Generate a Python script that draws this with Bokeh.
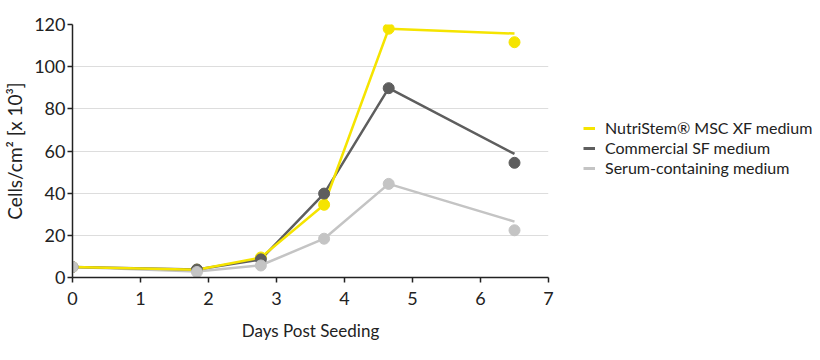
from bokeh.plotting import figure
from bokeh.layouts import row
from bokeh.models import Range1d, Legend, LegendItem, FixedTicker
from bokeh.embed import file_html
from bokeh.resources import INLINE

days = [0, 1.83, 2.77, 3.7, 4.65, 6.5]
series = ["NutriStem\u00ae MSC XF medium", "Commercial SF medium", "Serum-containing medium"]
colors = ["#F5E400", "#5E5E5E", "#C4C4C4"]
# connecting line values
line_vals = [
    [5, 3.7, 9.5, 34.5, 118, 115.7],
    [5, 3.8, 8.6, 39.8, 89.8, 58.6],
    [5, 2.8, 5.8, 18.4, 44.4, 26.5],
]
# measured points
point_vals = [
    [5, 3.7, 9.5, 34.5, 118, 111.6],
    [5, 3.8, 8.6, 39.8, 89.8, 54.4],
    [5, 2.6, 5.7, 18.4, 44.4, 22.4],
]
x_ticks = [0, 1, 2, 3, 4, 5, 6, 7]
y_ticks = [0, 20, 40, 60, 80, 100, 120]

FONT = "Lato"
H = 350
NAN = float("nan")

p = figure(width=556, height=H, output_backend="svg", toolbar_location=None,
           x_range=Range1d(0, 7), y_range=Range1d(0, 120),
           min_border_left=71, min_border_top=24, min_border_bottom=H - 277, min_border_right=8)
p.outline_line_color = None
p.background_fill_color = "white"

for i in [2, 1, 0]:
    p.line(days, line_vals[i], line_color=colors[i], line_width=2.5)
for i in [0, 1, 2]:
    p.scatter(days, point_vals[i], size=11, fill_color=colors[i], line_color=colors[i])

p.xgrid.grid_line_color = None
p.ygrid.grid_line_color = "#DDDDDD"
p.ygrid.grid_line_width = 1.2

p.xaxis.ticker = FixedTicker(ticks=x_ticks)
p.yaxis.ticker = FixedTicker(ticks=y_ticks)
for ax in (p.xaxis, p.yaxis):
    ax.axis_line_color = "#222222"
    ax.axis_line_width = 1.5
    ax.major_tick_line_color = "#222222"
    ax.major_tick_line_width = 1.5
    ax.major_tick_out = 5
    ax.major_tick_in = 0
    ax.minor_tick_line_color = None
    ax.major_label_text_font = FONT
    ax.major_label_text_font_size = "18px"
    ax.major_label_text_color = "#222222"
    ax.axis_label_text_font = FONT
    ax.axis_label_text_font_size = "17px"
    ax.axis_label_text_font_style = "normal"
    ax.axis_label_text_color = "#222222"

p.yaxis.axis_label_text_font_size = "19px"
p.xaxis.axis_label = "Days Post Seeding"
p.yaxis.axis_label = "Cells/cm\u00b2 [x 10\u00b3]"
p.xaxis.major_label_standoff = 9
p.xaxis.axis_label_standoff = 12
p.yaxis.major_label_standoff = 2
p.yaxis.axis_label_standoff = 5

# legend panel
pl = figure(width=256, height=H, output_backend="svg", toolbar_location=None,
            x_range=Range1d(0, 1), y_range=Range1d(0, 1),
            x_axis_location=None, y_axis_location=None,
            min_border_left=0, min_border_right=0, min_border_top=0, min_border_bottom=0)
pl.outline_line_color = None
pl.xgrid.grid_line_color = None
pl.ygrid.grid_line_color = None
items = []
for i in range(3):
    r = pl.line(x=[NAN], y=[NAN], line_color=colors[i], line_width=3)
    items.append(LegendItem(label=series[i], renderers=[r]))
legend = Legend(items=items, location=(27, 100), orientation="vertical")
legend.border_line_color = None
legend.background_fill_alpha = 0
legend.label_text_font = FONT
legend.label_text_font_size = "16px"
legend.label_text_color = "#222222"
legend.glyph_width = 12
legend.glyph_height = 14
legend.label_standoff = 10
legend.spacing = 1
legend.margin = 0
legend.padding = 6
pl.add_layout(legend, "center")

open("out.html", "w").write(file_html(row(p, pl), INLINE))
